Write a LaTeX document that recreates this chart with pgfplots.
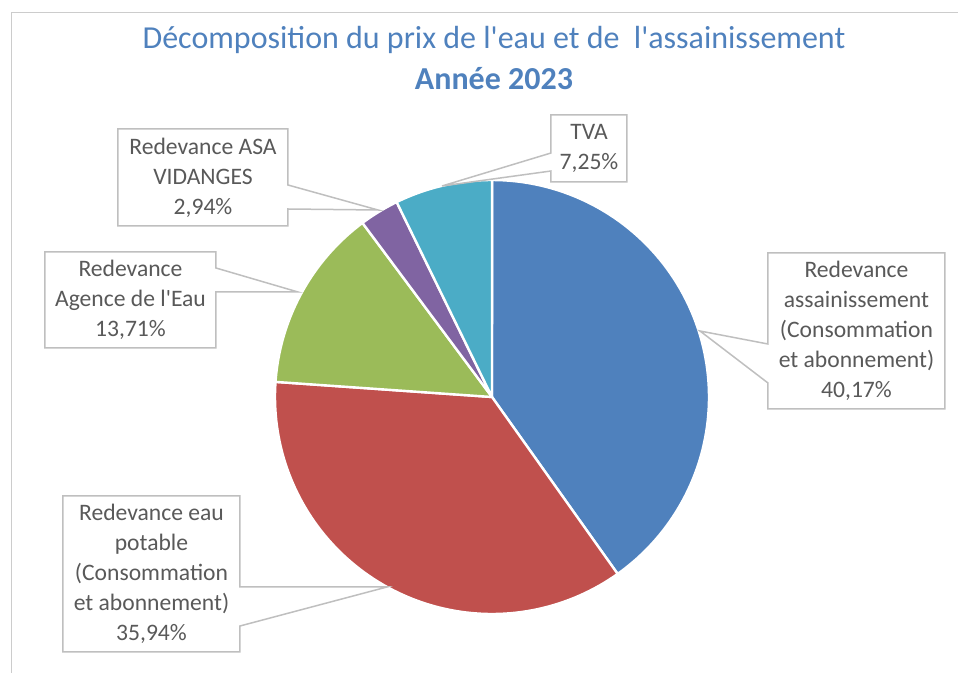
\documentclass[border=0pt]{standalone}
\usepackage{pgfplots}
\pgfplotsset{compat=1.18}
\usepackage{pgfplotstable}
\usepackage{fontspec}
\setmainfont{Carlito}
\newfontfamily\cf{Carlito}
\definecolor{sliceBlue}{HTML}{4F81BD}
\definecolor{sliceRed}{HTML}{C0504D}
\definecolor{sliceGreen}{HTML}{9BBB59}
\definecolor{slicePurple}{HTML}{8064A2}
\definecolor{sliceTeal}{HTML}{4BACC6}
\definecolor{txt}{HTML}{595959}
\definecolor{ttl}{HTML}{4F81BD}
\definecolor{brd}{HTML}{BFBFBF}

\pgfplotstableread{
share col
40.17 sliceBlue
35.94 sliceRed
13.71 sliceGreen
2.94 slicePurple
7.25 sliceTeal
}\piedata

\begin{document}
\begin{tikzpicture}
\useasboundingbox (0,0) rectangle (479bp,-336.5bp);
\clip (0,0) rectangle (479bp,-336.5bp);
\begin{axis}[anchor=south west, at={(137.5bp,-307bp)}, scale only axis,
  width=217bp, height=217bp, xmin=-1, xmax=1, ymin=-1, ymax=1,
  hide axis, clip=false]
\gdef\angA{90}
\pgfplotsforeachungrouped \i in {0,...,4}{%
  \pgfplotstablegetelem{\i}{share}\of\piedata \let\val\pgfplotsretval
  \pgfplotstablegetelem{\i}{col}\of\piedata \let\col\pgfplotsretval
  \pgfmathsetmacro\angB{\angA-3.6*\val}%
  \edef\cmd{\noexpand\filldraw[fill=\col, draw=white, line width=1.2bp, line join=round]
    (axis cs:0,0) -- plot[domain=\angA:\angB, samples=90, variable=\noexpand\t]
    (axis cs:{cos(\noexpand\t)},{sin(\noexpand\t)}) -- cycle;}%
  \cmd
  \global\let\angA\angB
}
\end{axis}
\begin{scope}[x=0.5bp,y=-0.5bp]
\draw[brd!80, line width=0.75bp] (11.5,2000) -- (11.5,12.5) -- (2000,12.5);
\node[ttl, font=\cf\fontsize{16bp}{19bp}\selectfont] at (494,40)
  {Décomposition du prix de l'eau et de\ \ l'assainissement};
\node[ttl, font=\cf\bfseries\fontsize{16bp}{19bp}\selectfont] at (494,79) {Année 2023};
\tikzset{cb/.style={fill=white, draw=brd, line width=0.75bp, line join=miter},
  lb/.style={txt, align=center, inner sep=0pt, font=\cf\fontsize{11.8bp}{15bp}\selectfont}}
\filldraw[cb] (768,253) -- (945,253) -- (945,409) -- (768,409) -- (768,383) -- (700,331) -- (768,344) -- cycle;
\filldraw[cb] (63,496) -- (240,496) -- (240,587) -- (387,587) -- (240,626) -- (240,652) -- (63,652) -- cycle;
\filldraw[cb] (45,252) -- (216,252) -- (216,268) -- (298,292) -- (216,292) -- (216,348) -- (45,348) -- cycle;
\filldraw[cb] (118,129) -- (288,129) -- (288,185) -- (378,210) -- (288,209) -- (288,226) -- (118,226) -- cycle;
\filldraw[cb] (551,115) -- (627,115) -- (627,182) -- (551,182) -- (551,171) -- (442,186) -- (551,153) -- cycle;
\node[lb] at (856.5,331) {Redevance\\assainissement\\(Consommation\\et abonnement)\\40,17\%};
\node[lb] at (151.5,574) {Redevance eau\\potable\\(Consommation\\et abonnement)\\35,94\%};
\node[lb] at (130.5,300) {Redevance\\Agence de l'Eau\\13,71\%};
\node[lb] at (203,177.5) {Redevance ASA\\VIDANGES\\2,94\%};
\node[lb] at (589,148.5) {TVA\\7,25\%};
\end{scope}
\end{tikzpicture}
\end{document}
